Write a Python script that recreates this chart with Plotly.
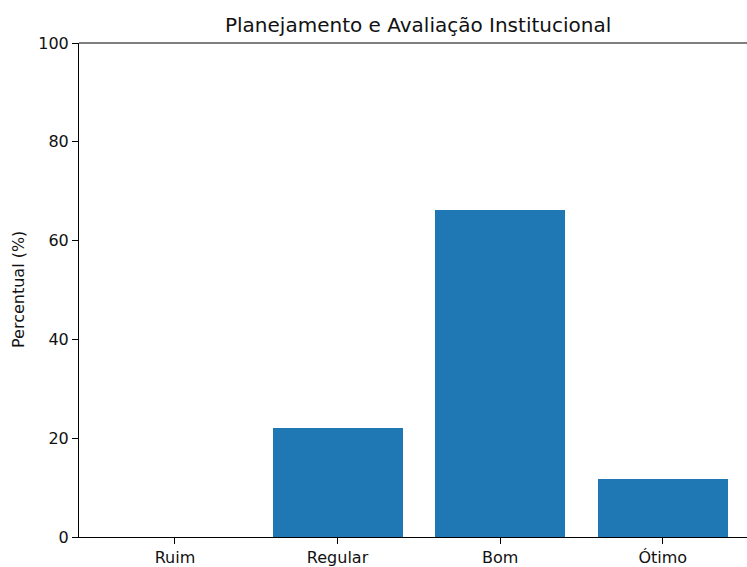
import plotly.graph_objects as go

categories = ["Ruim", "Regular", "Bom", "Ótimo"]
values = [0.0, 22.1, 66.2, 11.7]
y_ticks = [0, 20, 40, 60, 80, 100]

FONT = "DejaVu Sans"
TXT = "#111111"
fig = go.Figure()
fig.add_trace(go.Bar(
    x=list(range(len(categories))), y=values, width=0.8,
    marker=dict(color="#1f77b4", line=dict(width=0)),
    hoverinfo="skip",
))
fig.update_layout(
    width=747, height=567,
    margin=dict(l=79, r=0, t=43, b=28),
    paper_bgcolor="white", plot_bgcolor="white",
    font=dict(family=FONT, size=16, color=TXT),
    showlegend=False,
    bargap=0,
)
fig.update_xaxes(
    range=[-0.59, 3.518], tickmode="array",
    tickvals=list(range(len(categories))), ticktext=categories,
    showgrid=False, zeroline=False,
    showline=True, linecolor="black", linewidth=1.1,
    ticks="outside", ticklen=6, tickwidth=1.1, tickcolor="black",
    tickfont=dict(family=FONT, size=16, color=TXT),
)
fig.update_yaxes(
    range=[0, 100], tickmode="array", tickvals=y_ticks,
    ticktext=[str(t) for t in y_ticks],
    showgrid=False, zeroline=False,
    showline=True, linecolor="black", linewidth=1.1,
    ticks="outside", ticklen=6, tickwidth=1.1, tickcolor="black",
    tickfont=dict(family=FONT, size=16, color=TXT),
)
# top spine (the right spine lies outside the cropped picture)
fig.add_shape(type="line", xref="paper", yref="paper", x0=0, x1=1, y0=1, y1=1,
              line=dict(color="black", width=1.1))
fig.add_annotation(
    text="Planejamento e Avaliação Institucional",
    xref="paper", yref="paper", x=0.508, y=1, xanchor="center", yanchor="bottom",
    yshift=4, showarrow=False, font=dict(family=FONT, size=20, color=TXT),
)
fig.add_annotation(
    text="Percentual (%)", textangle=-90,
    xref="paper", yref="paper", x=0, y=0.5, xanchor="center", yanchor="middle",
    xshift=-61, showarrow=False, font=dict(family=FONT, size=16, color=TXT),
)
fig.write_html(
    "out.html",
    config={"displayModeBar": False},
    post_script="document.body.style.margin='0';document.body.style.overflow='hidden';",
)
